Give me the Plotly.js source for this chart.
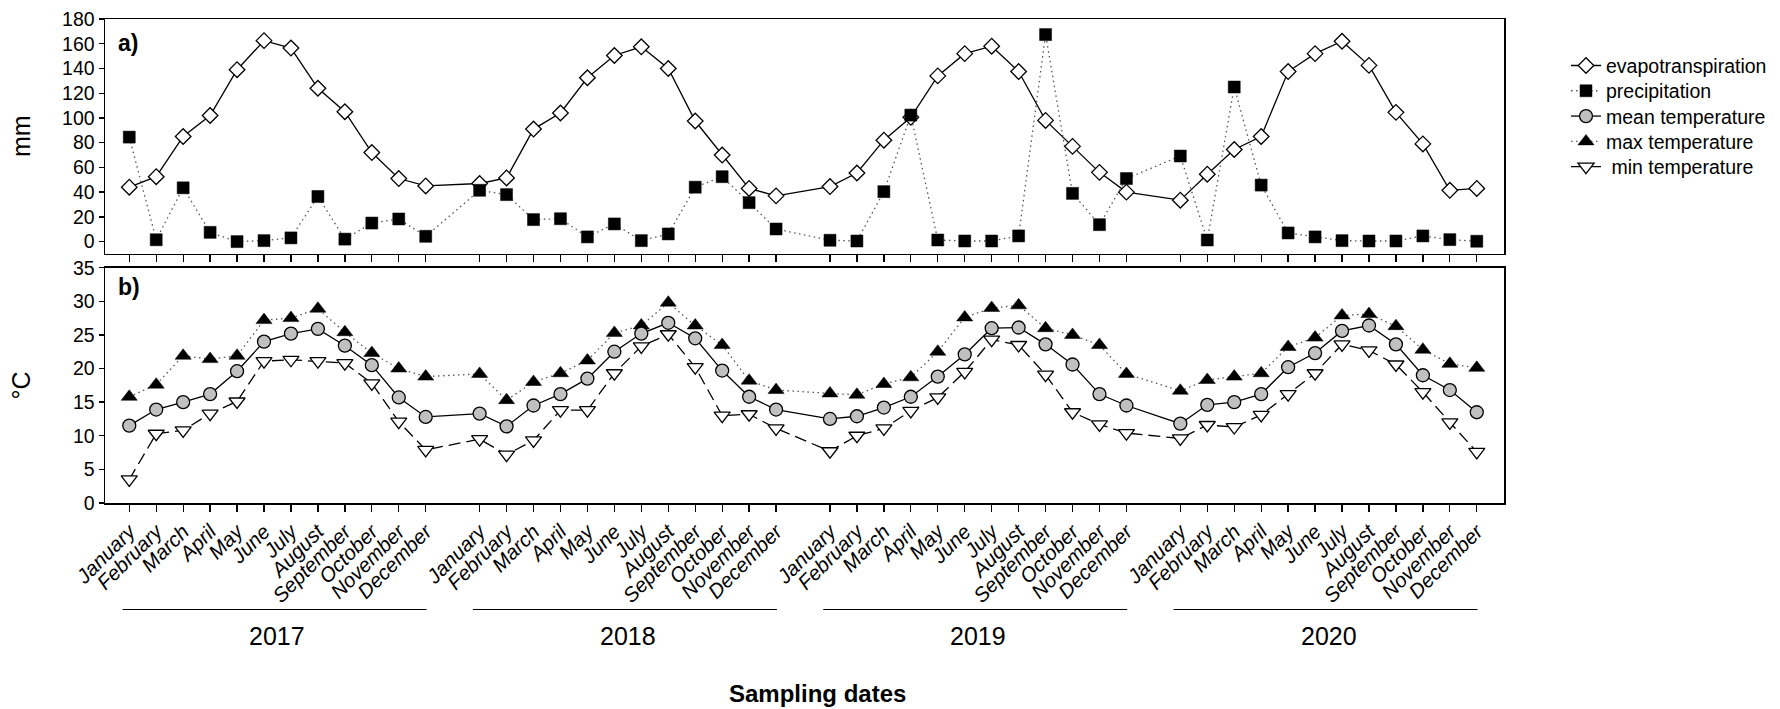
<!DOCTYPE html>
<html>
<head>
<meta charset="utf-8">
<script src="https://cdn.plot.ly/plotly-3.0.1.min.js"></script>
<style>
html,body{margin:0;padding:0;background:#fff;}
#chart{width:1780px;height:709px;}
</style>
</head>
<body>
<div id="chart"></div>
<script>
// ---- data ----
const months = ['January','February','March','April','May','June','July','August','September','October','November','December'];
const years = [2017, 2018, 2019, 2020];

const evapotranspiration = [
  44, 52.5, 85, 102, 139, 162.5, 156.5, 124, 105, 72, 51, 45,
  47, 51.5, 91, 104, 132.5, 150.5, 157.5, 140, 97.5, 70, 43, 37,
  44.5, 55.5, 82, 100.5, 134, 152, 158, 137.5, 98, 77, 56, 40,
  33.5, 54.5, 74.5, 85, 137.5, 152, 162, 142.5, 104.5, 79, 41.5, 43
];
const precipitation = [
  84.5, 1.5, 43.5, 7.5, 0, 0.8, 3, 36.5, 2, 15, 18.3, 4.3,
  41.5, 38, 17.8, 18.5, 3.8, 14.3, 0.8, 6.2, 44, 52.5, 31.5, 10.2,
  1.1, 0.5, 40.4, 102.3, 1.3, 0.5, 0.5, 4.6, 167.4, 39, 13.7, 51,
  69.2, 1.3, 125, 45.7, 7, 3.8, 0.8, 0.5, 0.5, 4.6, 1.6, 0.3
];
const meanTemperature = [
  11.5, 13.9, 15.0, 16.2, 19.6, 24.0, 25.2, 25.9, 23.4, 20.5, 15.7, 12.8,
  13.3, 11.4, 14.5, 16.2, 18.5, 22.5, 25.2, 26.8, 24.5, 19.7, 15.8, 13.9,
  12.5, 12.9, 14.2, 15.8, 18.8, 22.1, 26.0, 26.1, 23.6, 20.6, 16.2, 14.5,
  11.8, 14.6, 15.0, 16.2, 20.2, 22.3, 25.6, 26.4, 23.6, 19.0, 16.8, 13.5
];
const maxTemperature = [
  15.8, 17.6, 21.9, 21.4, 21.9, 27.2, 27.5, 28.9, 25.4, 22.3, 20.0, 18.8,
  19.2, 15.3, 18.0, 19.3, 21.2, 25.3, 26.4, 29.8, 26.4, 23.5, 18.2, 16.8,
  16.3, 16.1, 17.7, 18.7, 22.5, 27.6, 29.0, 29.4, 26.0, 25.0, 23.5, 19.2,
  16.7, 18.3, 18.8, 19.3, 23.2, 24.6, 27.9, 28.1, 26.3, 22.8, 20.7, 20.1
];
const minTemperature = [
  3.5, 10.3, 10.8, 13.3, 15.1, 21.1, 21.3, 21.1, 20.8, 17.8, 12.1, 7.9,
  9.5, 7.2, 9.3, 13.8, 13.8, 19.3, 23.3, 25.1, 20.2, 13.0, 13.2, 11.1,
  7.7, 10.0, 11.1, 13.7, 15.7, 19.5, 24.3, 23.5, 19.1, 13.5, 11.7, 10.4,
  9.6, 11.6, 11.3, 13.1, 16.2, 19.3, 23.6, 22.7, 20.6, 16.5, 12.0, 7.6
];

// ---- positions: one empty slot between years ----
const slotsPerYear = months.length + 1;
const xPos = [];
years.forEach((yr, yi) => months.forEach((m, mi) => xPos.push(yi * slotsPerYear + mi)));
const tickText = years.flatMap(() => months);

const FONT = 'Liberation Sans, Arial, sans-serif';

const traces = [
  {
    name: 'evapotranspiration', x: xPos, y: evapotranspiration, xaxis: 'x', yaxis: 'y',
    mode: 'lines+markers', legend: 'legend',
    line: {color: '#000', width: 1.3},
    marker: {symbol: 'diamond', size: 12, color: '#fff', line: {color: '#000', width: 1.3}}
  },
  {
    name: 'precipitation', x: xPos, y: precipitation, xaxis: 'x', yaxis: 'y',
    mode: 'lines+markers', legend: 'legend2',
    line: {color: '#555', width: 1.3, dash: '1.5px,3.5px'},
    marker: {symbol: 'square', size: 12, color: '#000', line: {color: '#000', width: 0.5}}
  },
  {
    name: 'max temperature', x: xPos, y: maxTemperature, xaxis: 'x2', yaxis: 'y2',
    mode: 'lines+markers', legend: 'legend4',
    line: {color: '#555', width: 1.3, dash: '1.5px,3.5px'},
    marker: {symbol: 'triangle-up', size: 14, color: '#000', line: {color: '#000', width: 0.5}}
  },
  {
    name: '\u00a0min temperature', x: xPos, y: minTemperature, xaxis: 'x2', yaxis: 'y2',
    mode: 'lines+markers', legend: 'legend5',
    line: {color: '#000', width: 1.3, dash: '12px,6px'},
    marker: {symbol: 'triangle-down', size: 14, color: '#fff', line: {color: '#000', width: 1.3}}
  },
  {
    name: 'mean temperature', x: xPos, y: meanTemperature, xaxis: 'x2', yaxis: 'y2',
    mode: 'lines+markers', legend: 'legend3',
    line: {color: '#000', width: 1.3},
    marker: {symbol: 'circle', size: 13, color: '#c0c0c0', line: {color: '#000', width: 1.3}}
  }
];

// paper area: l=105, r=0 -> 1675 px wide; plot occupies first 1399 px
const PAPER_W = 1675;
const px = v => (v - 105) / PAPER_W;          // horizontal pixel -> paper
const py = v => (503 - v) / 484;              // vertical pixel -> paper
const plotDomain = [0, 1399 / PAPER_W];

const xCommon = {
  domain: plotDomain,
  range: [-0.9, 51.01], tickmode: 'array', tickvals: xPos, ticktext: tickText,
  ticks: 'outside', ticklen: 7, tickwidth: 1.3, tickcolor: '#000',
  showline: true, linecolor: '#000', linewidth: 1.5, mirror: true,
  showgrid: false, zeroline: false
};
const yCommon = {
  ticks: 'outside', ticklen: 5, tickwidth: 1.3, tickcolor: '#000',
  showline: true, linecolor: '#000', linewidth: 1.5, mirror: true,
  showgrid: false, zeroline: false, tickfont: {family: FONT, size: 19.5, color: '#000'}
};

const annotations = [
  {text: '<b>a)</b>', xref: 'paper', yref: 'paper', x: px(116), y: py(43), xanchor: 'left', yanchor: 'middle',
   showarrow: false, font: {family: FONT, size: 23, color: '#000'}},
  {text: '<b>b)</b>', xref: 'paper', yref: 'paper', x: px(116), y: py(287), xanchor: 'left', yanchor: 'middle',
   showarrow: false, font: {family: FONT, size: 23, color: '#000'}},
  {text: 'mm', xref: 'paper', yref: 'paper', x: px(20.5), y: py(136.5), textangle: -90, xanchor: 'center', yanchor: 'middle',
   showarrow: false, font: {family: FONT, size: 25, color: '#000'}},
  {text: '\u00b0C', xref: 'paper', yref: 'paper', x: px(20.5), y: py(386), textangle: -90, xanchor: 'center', yanchor: 'middle',
   showarrow: false, font: {family: FONT, size: 25, color: '#000'}},
  {text: '<b>Sampling dates</b>', xref: 'paper', yref: 'paper', x: px(817), y: py(693.6), xanchor: 'center', yanchor: 'middle',
   showarrow: false, font: {family: FONT, size: 24, color: '#000'}}
];
const shapes = [];
years.forEach((yr, yi) => {
  const start = yi * slotsPerYear;
  annotations.push({text: String(yr), xref: 'x2', yref: 'paper', x: start + 5.5, y: py(636),
    xanchor: 'center', yanchor: 'middle', showarrow: false, font: {family: FONT, size: 25, color: '#000'}});
  shapes.push({type: 'line', xref: 'x2', yref: 'paper', x0: start - 0.25, x1: start + 11.03, y0: py(609.5), y1: py(609.5),
    line: {color: '#000', width: 1.2}});
});

const legendBase = {x: px(1566), xanchor: 'left', yanchor: 'middle', traceorder: 'normal',
  font: {family: FONT, size: 19.5, color: '#000'}, bgcolor: 'rgba(0,0,0,0)', borderwidth: 0};
const legendY = [65.8, 91.1, 116.4, 141.7, 167];

const layout = {
  width: 1780, height: 709,
  margin: {l: 105, r: 0, t: 19, b: 206, pad: 0},
  paper_bgcolor: '#fff', plot_bgcolor: '#fff',
  font: {family: FONT, color: '#000'},
  showlegend: true,
  legend:  Object.assign({}, legendBase, {y: py(legendY[0])}),
  legend2: Object.assign({}, legendBase, {y: py(legendY[1])}),
  legend3: Object.assign({}, legendBase, {y: py(legendY[2])}),
  legend4: Object.assign({}, legendBase, {y: py(legendY[3])}),
  legend5: Object.assign({}, legendBase, {y: py(legendY[4])}),
  xaxis: Object.assign({}, xCommon, {anchor: 'y', showticklabels: false}),
  xaxis2: Object.assign({}, xCommon, {anchor: 'y2', showticklabels: true, tickangle: -45,
    tickfont: {family: FONT, size: 20.5, color: '#000', style: 'italic'}}),
  yaxis: Object.assign({}, yCommon, {domain: [0.5145, 1], range: [-10, 180], tick0: 0, dtick: 20, anchor: 'x'}),
  yaxis2: Object.assign({}, yCommon, {domain: [0, 0.4862], range: [0, 35], tick0: 0, dtick: 5, anchor: 'x2'}),
  annotations: annotations,
  shapes: shapes
};

Plotly.newPlot('chart', traces, layout, {displayModeBar: false, staticPlot: true});
</script>
</body>
</html>
